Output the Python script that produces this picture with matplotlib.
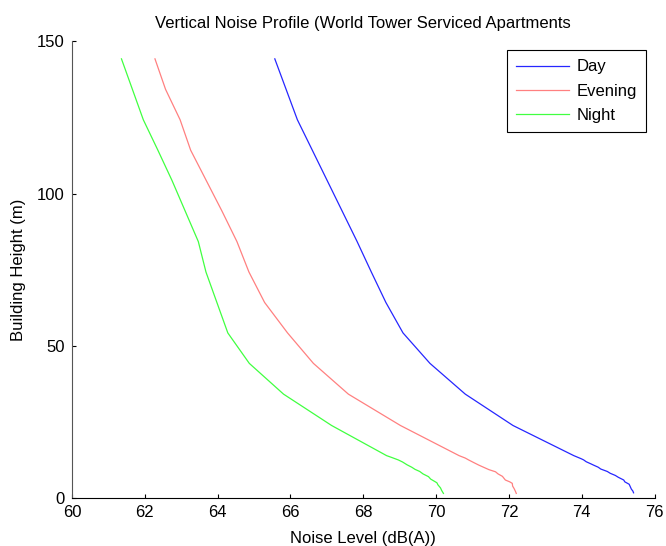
import matplotlib
matplotlib.use("Agg")
import matplotlib.pyplot as plt

plt.rcParams['font.family'] = ['Liberation Sans', 'DejaVu Sans']

# building heights (m) for the upper, smooth part of each profile
upper_heights = [144.3, 134.3, 124.3, 114.3, 104.3, 94.3, 84.3, 74.3, 64.3,
                 54.3, 44.3, 34.2, 23.9, 14.0]

day_upper = [65.57, 65.88, 66.19, 66.60, 67.01, 67.42, 67.83, 68.22, 68.62,
             69.09, 69.83, 70.80, 72.11, 73.78]
evening_upper = [62.28, 62.57, 62.97, 63.26, 63.69, 64.12, 64.53, 64.86, 65.29,
                 65.92, 66.63, 67.59, 69.02, 70.63]
night_upper = [61.36, 61.66, 61.96, 62.36, 62.75, 63.11, 63.47, 63.68, 63.98,
               64.28, 64.87, 65.81, 67.13, 68.64]

# lower part near ground level: dense, stepped readings
day_low_h = [13.0, 12.6, 12.0, 11.3, 10.9, 10.2, 9.6, 8.8, 8.2, 7.5, 6.9,
             6.0, 5.4, 4.6, 3.8, 3.0, 2.4, 1.8]
day_low = [73.98, 74.05, 74.12, 74.25, 74.32, 74.45, 74.52, 74.70, 74.78,
           74.92, 75.00, 75.15, 75.18, 75.30, 75.33, 75.36, 75.40, 75.42]

evening_low_h = [13.2, 12.6, 11.8, 10.9, 10.2, 9.4, 8.7, 8.0, 7.2, 6.0, 5.4,
                 4.9, 4.0, 3.2, 2.2, 1.6]
evening_low = [70.80, 70.89, 71.02, 71.17, 71.30, 71.45, 71.63, 71.70, 71.82,
               71.90, 72.02, 72.09, 72.10, 72.14, 72.18, 72.20]

night_low_h = [13.4, 12.6, 11.9, 11.0, 10.2, 9.5, 8.8, 8.0, 7.1, 6.3, 5.1,
               4.4, 3.4, 2.6, 1.6]
night_low = [68.78, 68.96, 69.08, 69.20, 69.33, 69.42, 69.55, 69.64, 69.79,
             69.85, 70.02, 70.05, 70.12, 70.15, 70.20]

fig = plt.figure(figsize=(6.66, 5.46), dpi=100)
ax = fig.add_axes([0.108, 0.0874, 0.875, 0.8366])

ax.plot(day_upper + day_low, upper_heights + day_low_h,
        color=(0.15, 0.15, 1.0), lw=0.9, label='Day')
ax.plot(evening_upper + evening_low, upper_heights + evening_low_h,
        color=(1.0, 0.5, 0.5), lw=0.9, label='Evening')
ax.plot(night_upper + night_low, upper_heights + night_low_h,
        color=(0.25, 1.0, 0.25), lw=0.9, label='Night')

ax.set_xlim(60, 76)
ax.set_ylim(0, 150)
ax.set_xticks(range(60, 77, 2))
ax.set_yticks([0, 50, 100, 150])
ax.tick_params(direction='in', length=3, labelsize=12, width=0.8, pad=5)
ax.spines['top'].set_visible(False)
ax.spines['right'].set_visible(False)
ax.spines['left'].set_color('#555555')

ax.set_title('Vertical Noise Profile (World Tower Serviced Apartments', fontsize=12, pad=10)
ax.set_xlabel('Noise Level (dB(A))', fontsize=12, labelpad=8)
ax.set_ylabel('Building Height (m)', fontsize=12, labelpad=8)

leg = ax.legend(loc='upper right', bbox_to_anchor=(0.9846, 0.981), fontsize=12,
                handlelength=3.2, labelspacing=0.55, fancybox=False,
                edgecolor='black', framealpha=1, borderpad=0.55,
                handletextpad=0.4, borderaxespad=0)
leg.get_frame().set_linewidth(0.8)

fig.savefig('out.png', dpi=100)
